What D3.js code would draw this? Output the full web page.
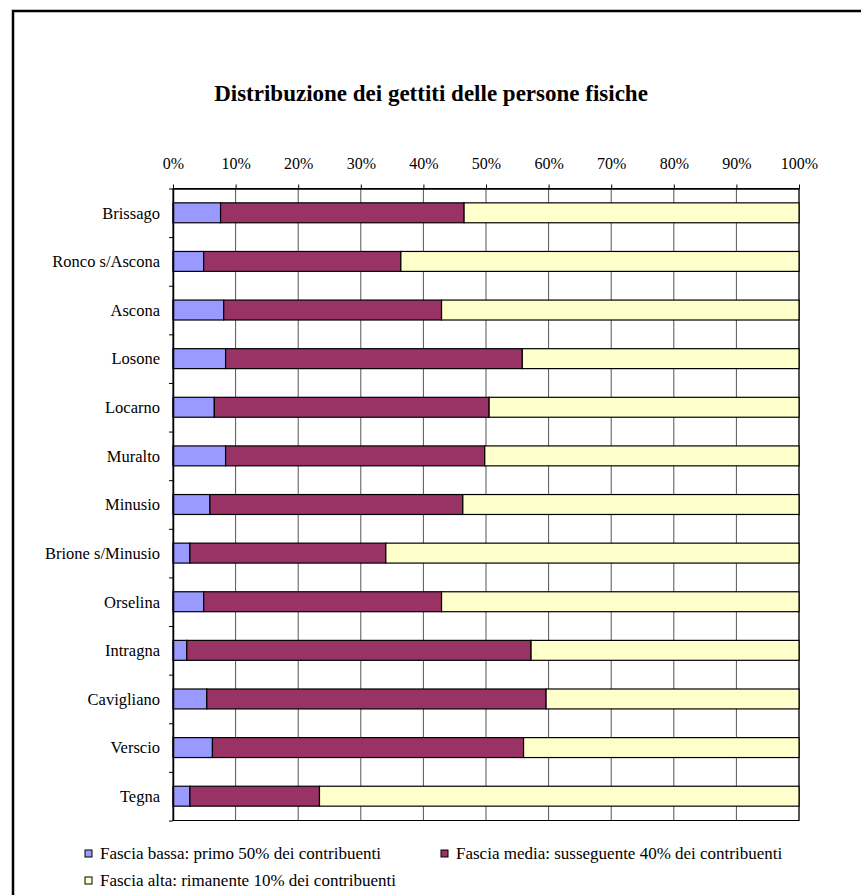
<!DOCTYPE html>
<html>
<head>
<meta charset="utf-8">
<script src="https://cdn.jsdelivr.net/npm/d3@7"></script>
<style>
  html, body { margin: 0; padding: 0; background: #fff; overflow: hidden; }
  svg { display: block; font-family: "Liberation Serif", "Times New Roman", serif; }
</style>
</head>
<body>
<svg id="chart" width="861" height="895"></svg>
<script>
// Comuni (top to bottom)
const categories = ["Brissago", "Ronco s/Ascona", "Ascona", "Losone", "Locarno", "Muralto",
  "Minusio", "Brione s/Minusio", "Orselina", "Intragna", "Cavigliano", "Verscio", "Tegna"];

// Share of the tax yield (%) for each income band
const fasciaBassa = [7.6, 4.9, 8.1, 8.4, 6.6, 8.4, 5.9, 2.7, 4.9, 2.2, 5.4, 6.3, 2.7];
const fasciaMedia = [38.9, 31.5, 34.8, 47.4, 43.9, 41.4, 40.4, 31.3, 38.0, 55.0, 54.2, 49.7, 20.7];
const fasciaAlta  = [53.5, 63.6, 57.1, 44.2, 49.5, 50.2, 53.7, 66.0, 57.1, 42.8, 40.4, 44.0, 76.6];

const seriesNames = [
  "Fascia bassa: primo 50% dei contribuenti",
  "Fascia media: susseguente 40% dei contribuenti",
  "Fascia alta: rimanente 10% dei contribuenti"
];
const seriesColors = ["#9999FF", "#993366", "#FFFFCC"];
const xTicks = [0, 10, 20, 30, 40, 50, 60, 70, 80, 90, 100];

const title = "Distribuzione dei gettiti delle persone fisiche";

const svg = d3.select("#chart");

// Outer frame (right and bottom edges fall outside the page)
svg.append("rect")
  .attr("x", 13).attr("y", 11)
  .attr("width", 900).attr("height", 950)
  .attr("fill", "#fff").attr("stroke", "#000").attr("stroke-width", 2.5);

const plot = { left: 173, right: 799, top: 188.5, bottom: 820.5 };

const x = d3.scaleLinear().domain([0, 100]).range([plot.left, plot.right]);
const y = d3.scaleBand().domain(categories)
  .range([plot.top, plot.bottom])
  .paddingInner(0.59).paddingOuter(0.295);
const rowEdge = d3.scaleLinear().domain([0, categories.length]).range([plot.top, plot.bottom]);

// Title
svg.append("text")
  .attr("x", 431).attr("y", 101)
  .attr("text-anchor", "middle")
  .attr("font-size", 23).attr("font-weight", "bold")
  .text(title);

// Vertical gridlines
svg.append("g").selectAll("line")
  .data(xTicks.slice(1))
  .join("line")
  .attr("x1", d => x(d)).attr("x2", d => x(d))
  .attr("y1", plot.top).attr("y2", plot.bottom)
  .attr("stroke", "#555").attr("stroke-width", 1);

// Plot frame
svg.append("rect")
  .attr("x", plot.left).attr("y", plot.top)
  .attr("width", plot.right - plot.left).attr("height", plot.bottom - plot.top)
  .attr("fill", "none").attr("stroke", "#000").attr("stroke-width", 1);

// Stacked bars
const rows = categories.map((c, i) => ({ cat: c, bassa: fasciaBassa[i], media: fasciaMedia[i], alta: fasciaAlta[i] }));
const stacked = d3.stack().keys(["bassa", "media", "alta"])(rows);

svg.append("g").selectAll("g")
  .data(stacked)
  .join("g")
  .attr("fill", (d, i) => seriesColors[i])
  .selectAll("rect")
  .data(d => d)
  .join("rect")
  .attr("x", d => x(d[0]))
  .attr("width", d => x(d[1]) - x(d[0]))
  .attr("y", d => y(d.data.cat))
  .attr("height", y.bandwidth())
  .attr("stroke", "#000").attr("stroke-width", 1.2);

// Top axis (percent)
const xAxis = d3.axisTop(x).tickValues(xTicks).tickFormat(d => d + "%")
  .tickSize(4).tickPadding(16).tickSizeOuter(0);
const gx = svg.append("g").attr("transform", `translate(0,${plot.top})`).call(xAxis);
gx.select(".domain").attr("stroke", "#000").attr("stroke-width", 1.5);
gx.selectAll(".tick line").attr("stroke", "#000");
gx.selectAll("text").attr("font-size", 16).attr("fill", "#000")
  .attr("font-family", "Liberation Serif, Times New Roman, serif");

// Left category axis: line and ticks at row boundaries
const yAxisEdges = d3.axisLeft(rowEdge).tickValues(d3.range(0, categories.length + 1))
  .tickSize(4).tickFormat("").tickSizeOuter(0);
const gy = svg.append("g").attr("transform", `translate(${plot.left},0)`).call(yAxisEdges);
gy.select(".domain").attr("stroke", "#000").attr("stroke-width", 1.5);
gy.selectAll(".tick line").attr("stroke", "#000");

// Category labels
svg.append("g").selectAll("text")
  .data(categories)
  .join("text")
  .attr("x", 160)
  .attr("y", d => y(d) + y.bandwidth() / 2)
  .attr("dy", "0.35em")
  .attr("text-anchor", "end")
  .attr("font-size", 16.5)
  .text(d => d);

// Legend
const legendPos = [[85, 850], [441, 850], [85, 877]];
const legend = svg.append("g").selectAll("g")
  .data(seriesNames)
  .join("g")
  .attr("transform", (d, i) => `translate(${legendPos[i][0]},${legendPos[i][1]})`);
legend.append("rect")
  .attr("x", 0).attr("y", 0).attr("width", 7).attr("height", 7)
  .attr("fill", (d, i) => seriesColors[i])
  .attr("stroke", "#000").attr("stroke-width", 1);
legend.append("text")
  .attr("x", 15).attr("y", 8.5)
  .attr("font-size", 17)
  .text(d => d);
</script>
</body>
</html>
